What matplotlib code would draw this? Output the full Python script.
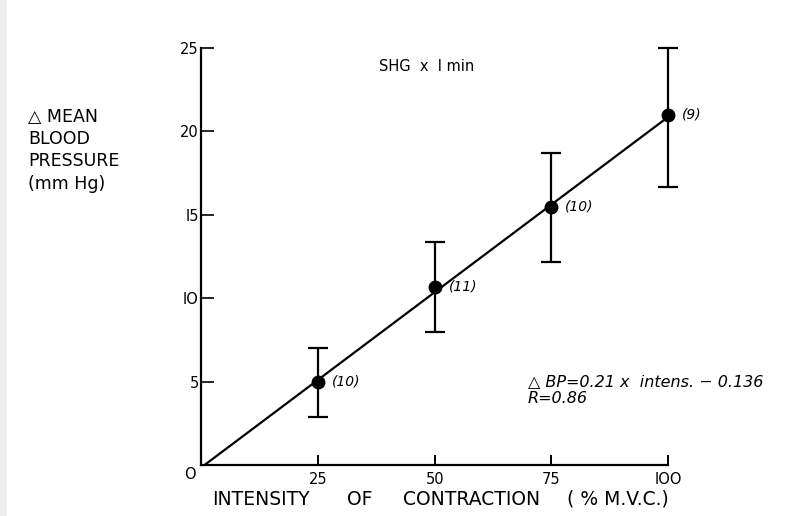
import matplotlib
matplotlib.use("Agg")
import matplotlib.pyplot as plt
from matplotlib.patches import Rectangle
import numpy as np

# intensity (% MVC), mean BP change, error bar ends, subject counts
intensity = [25, 50, 75, 100]
delta_bp = [5.0, 10.7, 15.5, 21.0]
err_low = [2.9, 8.0, 12.2, 16.7]
err_high = [7.0, 13.4, 18.7, 25.0]
n_subjects = ["(10)", "(11)", "(10)", "(9)"]
slope, intercept, r_value = 0.21, -0.136, 0.86

x_ticks = [0, 25, 50, 75, 100]
x_tick_labels = ["", "25", "50", "75", "IOO"]
y_ticks = [0, 5, 10, 15, 20, 25]
y_tick_labels = ["", "5", "IO", "I5", "20", "25"]
x_label_words = ["INTENSITY", "OF", "CONTRACTION", "( % M.V.C.)"]
x_label_pos = [0.1275, 0.340, 0.578, 0.893]

plt.rcParams["font.family"] = ["DejaVu Sans"]

fig = plt.figure(figsize=(7.88, 5.16), dpi=100)
# faint scanner edge along the left margin
fig.patches.append(Rectangle((0, 0), 0.009, 1, transform=fig.transFigure,
                             facecolor="#eeeeee", edgecolor="none"))
ax = fig.add_axes([0.2557, 0.0988, 0.592, 0.808])

# regression line drawn from the stated fit
fit_x = np.array([0, intensity[-1]])
ax.plot(fit_x, slope * fit_x + intercept, color="black", lw=1.6, zorder=2)

y = np.array(delta_bp)
yerr = [y - np.array(err_low), np.array(err_high) - y]
eb = ax.errorbar(intensity, y, yerr=yerr, fmt="o", color="black", ms=9,
                 elinewidth=1.6, capsize=7.5, capthick=1.6, zorder=3)
for art in eb.lines[1] + eb.lines[2] + (eb.lines[0],):
    art.set_clip_on(False)

for xi, yi, lab in zip(intensity, delta_bp, n_subjects):
    ax.annotate(lab, (xi, yi), xytext=(10, 0), textcoords="offset points",
                ha="left", va="center", fontsize=10, style="italic")

ax.set_xlim(0, 100)
ax.set_ylim(0, 25)
ax.spines["top"].set_visible(False)
ax.spines["right"].set_visible(False)
for s in ("left", "bottom"):
    ax.spines[s].set_linewidth(1.6)

ax.set_xticks(x_ticks)
ax.set_xticklabels(x_tick_labels)
ax.set_yticks(y_ticks)
ax.set_yticklabels(y_tick_labels)
ax.tick_params(axis="x", direction="in", length=7, width=1.4, labelsize=10.5, pad=5)
ax.tick_params(axis="y", direction="in", length=9, width=1.2, labelsize=10.5, pad=2)
fig.text(190 / 788, 0.081, "O", ha="center", va="center", fontsize=10.5)

# x label spread out word by word, like hand lettering
for word, xp in zip(x_label_words, x_label_pos):
    ax.text(xp, -0.082, word, transform=ax.transAxes, ha="center",
            va="center", fontsize=13.5)

fig.text(0.036, 0.731, "\u25b3 MEAN\nBLOOD\nPRESSURE", ha="left", va="center",
         fontsize=12.5, linespacing=1.3)
fig.text(0.036, 0.643, "(mm Hg)", ha="left", va="center", fontsize=12.5)

ax.text(0.482, 0.955, "SHG  x  l min", transform=ax.transAxes, ha="center",
        va="center", fontsize=10.5)

ax.text(0.70, 0.20, "\u25b3 BP=0.21 x  intens. \u2212 0.136", transform=ax.transAxes,
        ha="left", va="center", fontsize=11.5, style="italic")
ax.text(0.698, 0.159, f"R={r_value:.2f}", transform=ax.transAxes,
        ha="left", va="center", fontsize=11.5, style="italic")

fig.savefig("out.png", dpi=100)
